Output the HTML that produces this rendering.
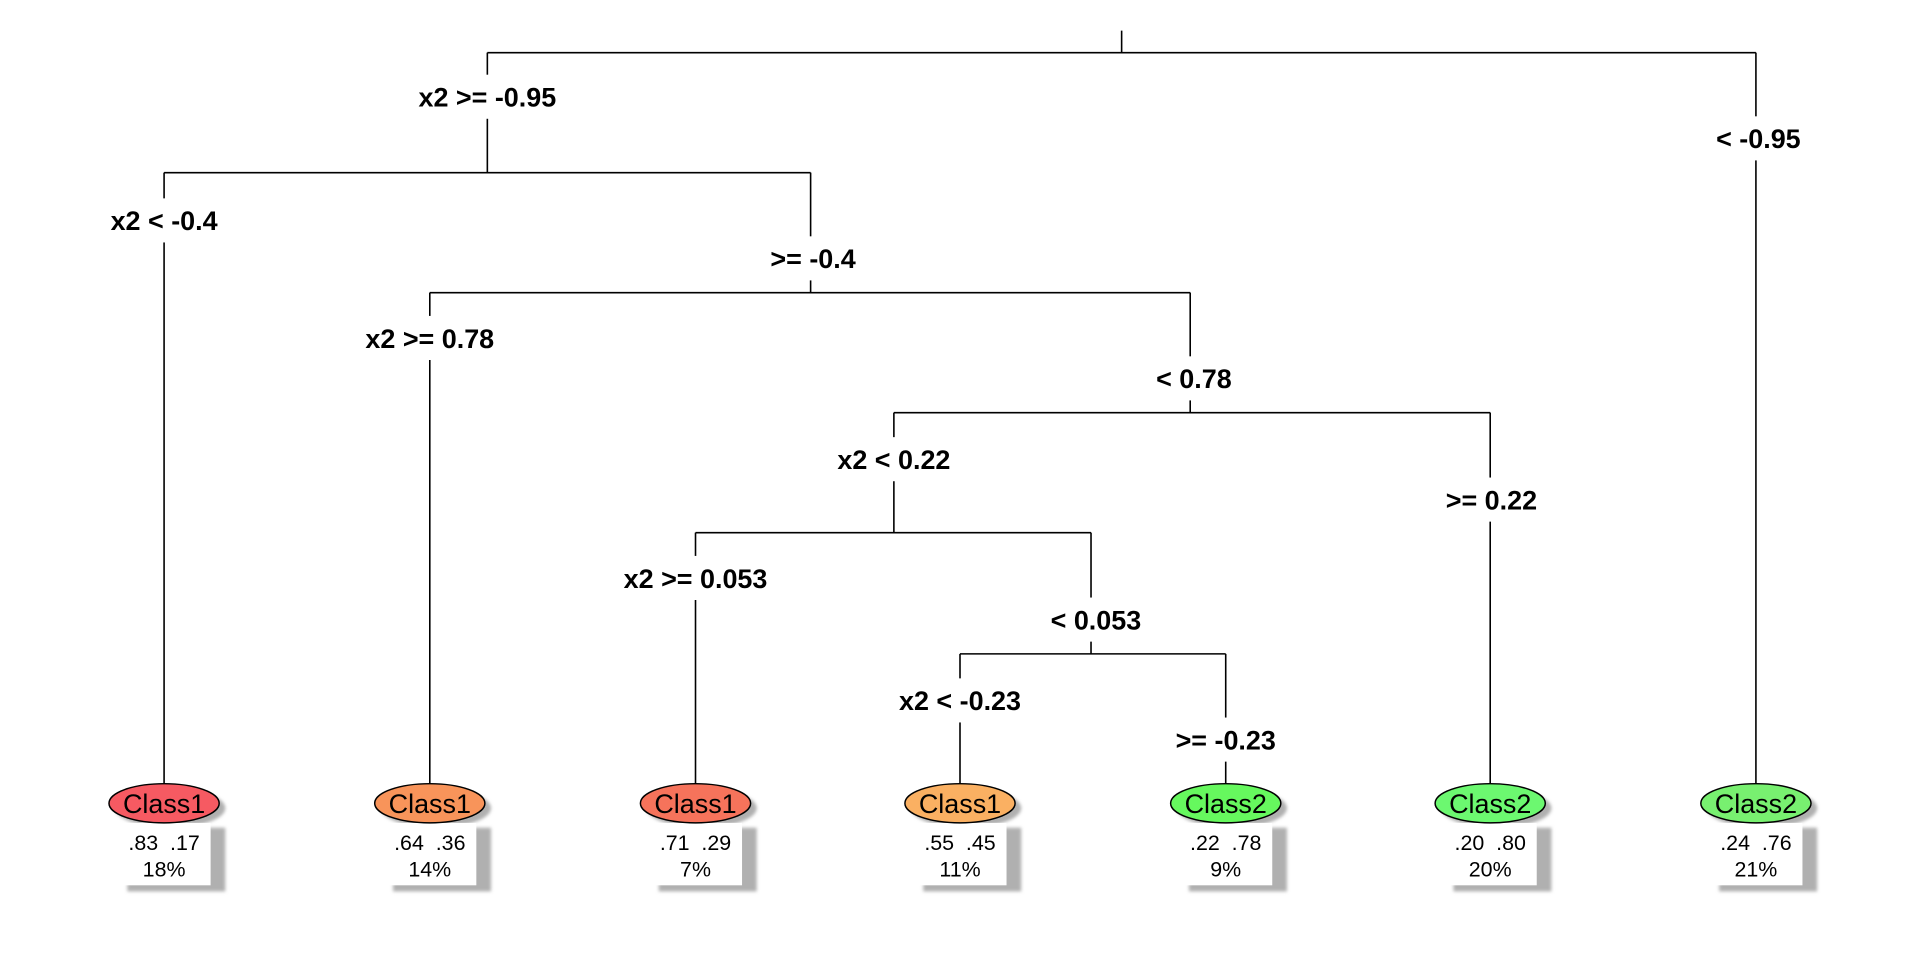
<!DOCTYPE html>
<html><head><meta charset="utf-8"><style>
html,body{margin:0;padding:0;background:#fff;}
svg{display:block;}
text{font-family:"Liberation Sans",sans-serif;}
.s{font-weight:bold;font-size:22px;text-anchor:middle;}
.c{font-size:22px;text-anchor:middle;}
.n{font-size:17.5px;text-anchor:middle;}
</style></head><body>
<svg width="1920" height="960" viewBox="0 0 1568 784" xmlns="http://www.w3.org/2000/svg">
<defs><filter id="b" x="-20%" y="-20%" width="140%" height="140%"><feGaussianBlur stdDeviation="1.2"/></filter>
<g id="sh"><rect x="-30" y="676" width="80" height="52" fill="#b0b0b0" filter="url(#b)"/>
<ellipse cx="5" cy="660" rx="45" ry="16" fill="#b0b0b0" filter="url(#b)"/>
<rect x="-34" y="672" width="72" height="51" fill="#fff"/></g></defs>
<g stroke="#000" stroke-width="1.3" fill="none">
<path d="M916 25V43M398 43H1434M398 43V141M134 141H662M1434 43V640M134 141V640M662 141V239M351 239H972M351 239V640M972 239V337M730 337H1217M730 337V435M568 435H891M1217 337V640M568 435V640M891 435V534M784 534H1001M784 534V640M1001 534V640"/>
</g>
<g>
<rect x="332" y="61" width="132" height="36" fill="#fff"/><text class="s" x="398" y="87">x2 &gt;= -0.95</text>
<rect x="1394" y="95" width="82" height="36" fill="#fff"/><text class="s" x="1436" y="121">&lt; -0.95</text>
<rect x="82" y="162" width="104" height="36" fill="#fff"/><text class="s" x="134" y="188">x2 &lt; -0.4</text>
<rect x="620" y="193" width="86" height="36" fill="#fff"/><text class="s" x="664" y="219">&gt;= -0.4</text>
<rect x="290" y="258" width="122" height="36" fill="#fff"/><text class="s" x="351" y="284">x2 &gt;= 0.78</text>
<rect x="934" y="291" width="80" height="36" fill="#fff"/><text class="s" x="975" y="317">&lt; 0.78</text>
<rect x="674" y="357" width="112" height="36" fill="#fff"/><text class="s" x="730" y="383">x2 &lt; 0.22</text>
<rect x="1172" y="390" width="92" height="36" fill="#fff"/><text class="s" x="1218" y="416">&gt;= 0.22</text>
<rect x="500" y="454" width="136" height="36" fill="#fff"/><text class="s" x="568" y="480">x2 &gt;= 0.053</text>
<rect x="850" y="488" width="90" height="36" fill="#fff"/><text class="s" x="895" y="514">&lt; 0.053</text>
<rect x="724" y="554" width="120" height="36" fill="#fff"/><text class="s" x="784" y="580">x2 &lt; -0.23</text>
<rect x="954" y="586" width="96" height="36" fill="#fff"/><text class="s" x="1001" y="612">&gt;= -0.23</text>
</g>
<g transform="translate(134,0)"><use href="#sh"/>
<ellipse cx="0" cy="656" rx="45" ry="16" fill="#f65a62" stroke="#000" stroke-width="1.2"/>
<text class="c" x="0" y="664">Class1</text><text class="n" x="-17" y="694">.83</text><text class="n" x="17" y="694">.17</text><text class="n" x="0" y="716">18%</text></g>
<g transform="translate(351,0)"><use href="#sh"/>
<ellipse cx="0" cy="656" rx="45" ry="16" fill="#f8945a" stroke="#000" stroke-width="1.2"/>
<text class="c" x="0" y="664">Class1</text><text class="n" x="-17" y="694">.64</text><text class="n" x="17" y="694">.36</text><text class="n" x="0" y="716">14%</text></g>
<g transform="translate(568,0)"><use href="#sh"/>
<ellipse cx="0" cy="656" rx="45" ry="16" fill="#f6735b" stroke="#000" stroke-width="1.2"/>
<text class="c" x="0" y="664">Class1</text><text class="n" x="-17" y="694">.71</text><text class="n" x="17" y="694">.29</text><text class="n" x="0" y="716">7%</text></g>
<g transform="translate(784,0)"><use href="#sh"/>
<ellipse cx="0" cy="656" rx="45" ry="16" fill="#fab062" stroke="#000" stroke-width="1.2"/>
<text class="c" x="0" y="664">Class1</text><text class="n" x="-17" y="694">.55</text><text class="n" x="17" y="694">.45</text><text class="n" x="0" y="716">11%</text></g>
<g transform="translate(1001,0)"><use href="#sh"/>
<ellipse cx="0" cy="656" rx="45" ry="16" fill="#66f85e" stroke="#000" stroke-width="1.2"/>
<text class="c" x="0" y="664">Class2</text><text class="n" x="-17" y="694">.22</text><text class="n" x="17" y="694">.78</text><text class="n" x="0" y="716">9%</text></g>
<g transform="translate(1217,0)"><use href="#sh"/>
<ellipse cx="0" cy="656" rx="45" ry="16" fill="#6cf870" stroke="#000" stroke-width="1.2"/>
<text class="c" x="0" y="664">Class2</text><text class="n" x="-17" y="694">.20</text><text class="n" x="17" y="694">.80</text><text class="n" x="0" y="716">20%</text></g>
<g transform="translate(1434,0)"><use href="#sh"/>
<ellipse cx="0" cy="656" rx="45" ry="16" fill="#78f070" stroke="#000" stroke-width="1.2"/>
<text class="c" x="0" y="664">Class2</text><text class="n" x="-17" y="694">.24</text><text class="n" x="17" y="694">.76</text><text class="n" x="0" y="716">21%</text></g>
</svg>
</body></html>
